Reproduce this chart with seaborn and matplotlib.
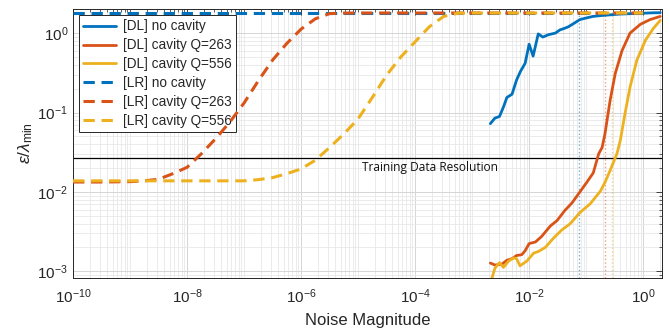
import numpy as np
import pandas as pd
import matplotlib
matplotlib.use("Agg")
import matplotlib.pyplot as plt
from matplotlib.ticker import LogLocator, FixedLocator, NullFormatter
import seaborn as sns

# ---- data (log10 values) ----
lr_noise_log = [-10, -9.5, -9, -8.75, -8.5, -8.25, -8, -7.75, -7.5, -7.25, -7, -6.75,
                -6.5, -6.25, -6, -5.75, -5.5, -5.25, -5, -4.75, -4.5, -4.25, -4,
                -3.75, -3.5, -3.25, -3, -2, -1, 0]
lr_none_log = [0.253] * 30
lr_q263_log = [-1.875, -1.875, -1.87, -1.86, -1.84, -1.77, -1.69, -1.52, -1.33, -1.12,
               -0.88, -0.60, -0.34, -0.13, 0.05, 0.18, 0.245, 0.252, 0.253, 0.253,
               0.253, 0.253, 0.253, 0.253, 0.253, 0.253, 0.253, 0.253, 0.253, 0.253]
lr_q556_log = [-1.86, -1.86, -1.86, -1.86, -1.86, -1.86, -1.86, -1.86, -1.86, -1.86,
               -1.86, -1.845, -1.82, -1.77, -1.71, -1.60, -1.44, -1.27, -1.08, -0.81,
               -0.53, -0.30, -0.11, 0.08, 0.21, 0.25, 0.253, 0.253, 0.253, 0.253]

dl_none_x = [-2.68, -2.60, -2.52, -2.45, -2.39, -2.30, -2.22, -2.15, -2.07, -2.0, -1.93,
             -1.84, -1.76, -1.66, -1.54, -1.46, -1.38, -1.31, -1.22, -1.11, -1.0, -0.88,
             -0.75, -0.58, -0.4, -0.2, 0.0, 0.15, 0.30]
dl_none_y = [-1.14, -1.07, -1.05, -0.93, -0.81, -0.77, -0.59, -0.48, -0.38, -0.14, -0.29,
             -0.01, -0.05, -0.02, 0.0, 0.04, 0.06, 0.08, 0.12, 0.17, 0.19, 0.21,
             0.22, 0.23, 0.24, 0.245, 0.25, 0.255, 0.257]

dl_q263_x = [-2.68, -2.60, -2.48, -2.39, -2.30, -2.22, -2.13, -2.07, -2.0, -1.89, -1.78,
             -1.63, -1.51, -1.37, -1.25, -1.11, -0.99, -0.875, -0.78, -0.72, -0.67,
             -0.58, -0.49, -0.37, -0.23, -0.05, 0.12, 0.30]
dl_q263_y = [-2.895, -2.92, -2.91, -2.86, -2.84, -2.80, -2.79, -2.74, -2.65, -2.63, -2.56,
             -2.43, -2.36, -2.23, -2.14, -2.0, -1.88, -1.76, -1.52, -1.44, -1.27,
             -0.85, -0.51, -0.22, 0.0, 0.11, 0.17, 0.21]

dl_q556_x = [-2.68, -2.60, -2.52, -2.45, -2.36, -2.27, -2.22, -2.16, -2.04, -1.92, -1.84,
             -1.72, -1.57, -1.43, -1.28, -1.11, -0.93, -0.75, -0.67, -0.58, -0.46,
             -0.40, -0.32, -0.23, -0.11, 0.04, 0.18, 0.30]
dl_q556_y = [-3.15, -2.96, -2.89, -2.95, -2.87, -2.83, -2.84, -2.93, -2.87, -2.77, -2.75,
             -2.70, -2.58, -2.48, -2.40, -2.26, -2.15, -1.99, -1.88, -1.73, -1.52,
             -1.35, -1.02, -0.68, -0.34, -0.09, 0.06, 0.16]

threshold_noise = [0.076, 0.21, 0.29]
training_resolution = 0.027

labels = ["[DL] no cavity", "[DL] cavity Q=263", "[DL] cavity Q=556",
          "[LR] no cavity", "[LR] cavity Q=263", "[LR] cavity Q=556"]
colors = ["#0072BD", "#D95319", "#EDB120"]

# ---- build long table ----
rows = []
def add(name, xs, ys):
    for x, y in zip(xs, ys):
        rows.append({"series": name, "noise": 10.0 ** x, "err": 10.0 ** y})

add(labels[0], dl_none_x, dl_none_y)
add(labels[1], dl_q263_x, dl_q263_y)
add(labels[2], dl_q556_x, dl_q556_y)
add(labels[3], lr_noise_log, lr_none_log)
add(labels[4], lr_noise_log, lr_q263_log)
add(labels[5], lr_noise_log, lr_q556_log)
df = pd.DataFrame(rows)

sns.set_style("white")
plt.rcParams["font.family"] = ["Liberation Sans", "DejaVu Sans"]
plt.rcParams["mathtext.fontset"] = "custom"
plt.rcParams["mathtext.rm"] = "Liberation Sans"
plt.rcParams["mathtext.it"] = "Liberation Sans:italic"
plt.rcParams["mathtext.fallback"] = "stixsans"

fig = plt.figure(figsize=(6.7, 3.28), dpi=100)
ax = fig.add_axes([0.109, 0.153, 0.879, 0.819])
ax.set_xscale("log")
ax.set_yscale("log")

palette = {labels[0]: colors[0], labels[1]: colors[1], labels[2]: colors[2],
           labels[3]: colors[0], labels[4]: colors[1], labels[5]: colors[2]}

for i, name in enumerate(labels):
    sub = df[df["series"] == name]
    lw = 2.0 if i < 3 else 2.2
    sns.lineplot(data=sub, x="noise", y="err", ax=ax, color=palette[name],
                 linewidth=lw, label=name, sort=False, estimator=None,
                 linestyle="-" if i < 3 else (0, (3.7, 2.2)), zorder=3 + i)

for xv, c in zip(threshold_noise, colors):
    ax.axvline(xv, color=c, linestyle=":", linewidth=1.0, alpha=0.55, zorder=2)

ax.axhline(training_resolution, color="black", linewidth=0.9, zorder=2)
ax.text(10 ** -3.74, 0.0245, "Training Data Resolution", ha="center", va="top",
        fontsize=8.6, family=["Open Sans", "DejaVu Sans"], color="#111111")

ax.set_xlim(1e-10, 10 ** 0.33)
ax.set_ylim(8.3e-4, 2.0)

ax.xaxis.set_major_locator(FixedLocator([10.0 ** k for k in range(-10, 1, 2)]))
ax.xaxis.set_minor_locator(LogLocator(base=10, subs=np.arange(1, 10), numticks=200))
ax.xaxis.set_minor_formatter(NullFormatter())
ax.yaxis.set_major_locator(FixedLocator([1e-3, 1e-2, 1e-1, 1e0]))
ax.yaxis.set_minor_locator(LogLocator(base=10, subs=np.arange(2, 10), numticks=200))
ax.yaxis.set_minor_formatter(NullFormatter())

ax.grid(True, which="major", color="#d5d5d5", linewidth=0.7)
ax.grid(True, which="minor", color="#e8e8e8", linewidth=0.6)
ax.set_axisbelow(True)

ax.tick_params(which="both", direction="in", top=True, right=True,
               colors="#262626", labelsize=11)
ax.tick_params(axis="x", which="major", pad=7)
ax.tick_params(which="major", length=4, width=0.6)
ax.tick_params(which="minor", length=2, width=0.5)
for s in ax.spines.values():
    s.set_color("#262626")
    s.set_linewidth(0.7)

ax.set_xlabel("Noise Magnitude", fontsize=12, color="#262626", labelpad=5)
ax.set_ylabel(r"$\epsilon/\lambda_{\min}$", fontsize=12.5, color="#262626", labelpad=2)

leg = ax.legend(loc="upper left", fontsize=9.8, frameon=True, fancybox=False,
                edgecolor="#262626", framealpha=1, handlelength=2.4,
                borderaxespad=0.45, labelspacing=0.36, borderpad=0.3,
                handletextpad=0.5)
leg.get_frame().set_linewidth(0.7)

fig.savefig("out.png", dpi=100)
